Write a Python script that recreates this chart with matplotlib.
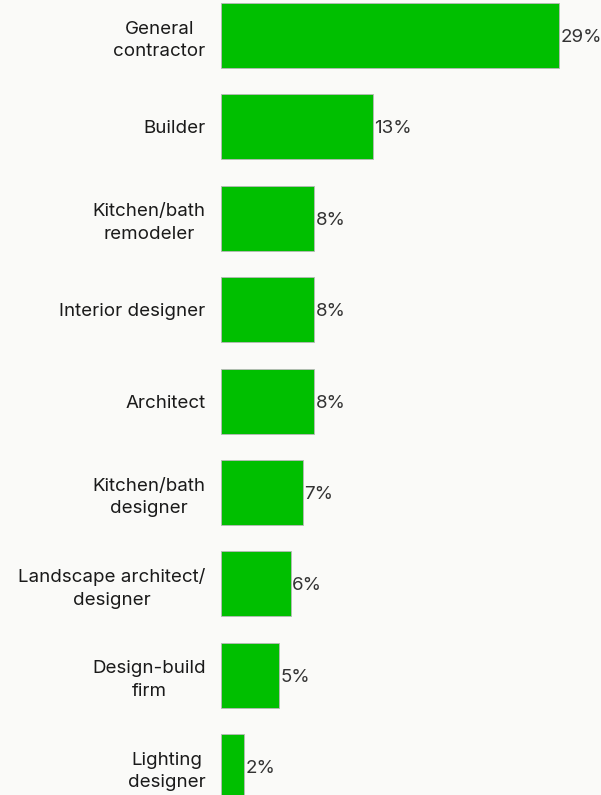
import matplotlib
matplotlib.use("Agg")
import matplotlib.pyplot as plt

categories = [
    "General\ncontractor",
    "Builder",
    "Kitchen/bath\nremodeler",
    "Interior designer",
    "Architect",
    "Kitchen/bath\ndesigner",
    "Landscape architect/\ndesigner",
    "Design-build\nfirm",
    "Lighting\ndesigner",
]
shares = [29, 13, 8, 8, 8, 7, 6, 5, 2]

BG = "#fafaf8"
GREEN = "#00bf00"

plt.rcParams["font.family"] = ["Inter", "DejaVu Sans"]

fig = plt.figure(figsize=(6.01, 7.95), dpi=100, facecolor=BG)
ax = fig.add_axes([221 / 601, 0, 380 / 601, 1])
ax.set_facecolor(BG)

y = range(len(categories))
ax.barh(y, shares, height=0.71, color=GREEN, edgecolor="#b8b8b8", linewidth=0.6)

ax.set_xlim(0, 380 / 11.66)
ax.set_ylim((795 - 35.5) / 91.4, -35.5 / 91.4)

# value labels just past the bar end
for i, v in enumerate(shares):
    ax.annotate(f"{v}%", (v, i), xytext=(1, -1.5), textcoords="offset points",
                va="center", ha="left", fontsize=13.5, color="#333333")

ax.set_yticks(list(y))
ax.set_yticklabels(categories, fontsize=13.5, color="#1a1a1a",
                   linespacing=1.4, multialignment="center")
ax.tick_params(axis="y", length=0, pad=11)
ax.set_xticks([])
for s in ax.spines.values():
    s.set_visible(False)

fig.savefig("out.png", dpi=100, facecolor=BG)
